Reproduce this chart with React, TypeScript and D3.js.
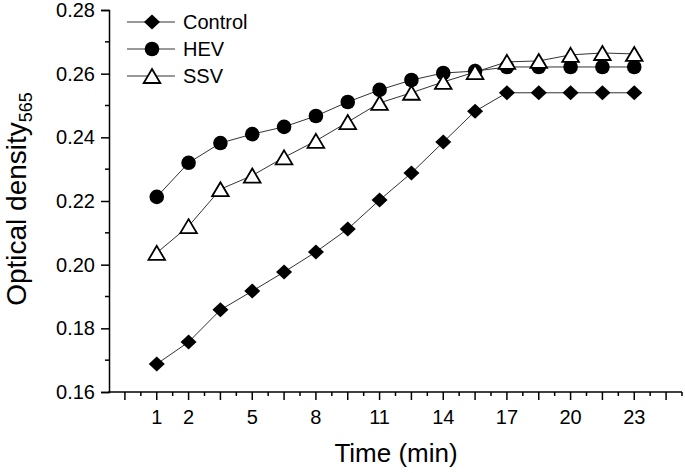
import { useEffect, useRef } from 'react';
import * as d3 from 'd3';

// sample positions along the axis (the axis is spaced by sample, not by minute)
const sampleIndex = [1, 2, 3, 4, 5, 6, 7, 8, 9, 10, 11, 12, 13, 14, 15, 16];
const timeLabels = ['1', '2', '5', '8', '11', '14', '17', '20', '23'];
const labelIndex = [1, 2, 4, 6, 8, 10, 12, 14, 16];

const control = [0.1688, 0.1757, 0.1858, 0.1917, 0.1977, 0.204, 0.2112, 0.2203, 0.2288, 0.2385, 0.2482, 0.254, 0.254, 0.254, 0.254, 0.254];
const hev = [0.2213, 0.232, 0.2382, 0.241, 0.2433, 0.2467, 0.2511, 0.2549, 0.258, 0.2602, 0.2608, 0.2621, 0.2621, 0.2621, 0.2621, 0.2621];
const ssv = [0.2037, 0.2121, 0.2237, 0.228, 0.2337, 0.2389, 0.2448, 0.2508, 0.254, 0.2574, 0.2605, 0.2637, 0.264, 0.2659, 0.2665, 0.2662];

const seriesNames = ['Control', 'HEV', 'SSV'];
const yTicks = [0.16, 0.18, 0.2, 0.22, 0.24, 0.26, 0.28];

const FONT = '"Liberation Sans", Arial, Helvetica, sans-serif';

const diamond = 'M0,-7.5L8,0L0,7.5L-8,0Z';
const triangle = 'M0,-7L8.3,7L-8.3,7Z';

function drawMarker(g: d3.Selection<SVGGElement, unknown, null, undefined>, kind: string, x: number, y: number) {
  if (kind === 'Control') {
    g.append('path').attr('d', diamond).attr('transform', `translate(${x},${y})`).attr('fill', '#000');
  } else if (kind === 'HEV') {
    g.append('circle').attr('cx', x).attr('cy', y).attr('r', 7.3).attr('fill', '#000');
  } else {
    g.append('path')
      .attr('d', triangle)
      .attr('transform', `translate(${x},${y})`)
      .attr('fill', '#fff')
      .attr('stroke', '#000')
      .attr('stroke-width', 1.8)
      .attr('stroke-linejoin', 'miter');
  }
}

export default function App() {
  const svgRef = useRef<SVGSVGElement>(null);

  useEffect(() => {
    if (!svgRef.current) return;
    const svg = d3.select(svgRef.current);
    svg.selectAll('*').remove();

    const x = d3.scaleLinear().domain([-0.5, 17.5]).range([109, 682]);
    const y = d3.scaleLinear().domain([0.16, 0.28]).range([392, 10]);

    const g = svg.append('g');

    // connecting lines
    const line = d3
      .line<number>()
      .x((_, i) => x(sampleIndex[i]))
      .y((d) => y(d));

    const dataSets = [control, hev, ssv];
    dataSets.forEach((vals) => {
      g.append('path')
        .datum(vals)
        .attr('d', line)
        .attr('fill', 'none')
        .attr('stroke', '#333')
        .attr('stroke-width', 1);
    });

    // markers: control first, then HEV, then SSV on top
    dataSets.forEach((vals, s) => {
      vals.forEach((v, i) => drawMarker(g, seriesNames[s], x(sampleIndex[i]), y(v)));
    });

    // y axis
    const yAxis = d3
      .axisLeft(y)
      .tickValues(yTicks)
      .tickSize(8)
      .tickPadding(6)
      .tickFormat((d) => d3.format('.2f')(d as number));
    const ya = svg.append('g').attr('transform', 'translate(109,0)').call(yAxis);
    ya.select('.domain').attr('stroke-width', 1.5);
    ya.selectAll('.tick line').attr('stroke-width', 1.5);
    ya.selectAll('text').attr('font-size', 20).attr('font-family', FONT).attr('fill', '#000');

    // y minor ticks
    const yMinor = d3.range(0.17, 0.28, 0.02);
    svg
      .append('g')
      .selectAll('line')
      .data(yMinor)
      .join('line')
      .attr('x1', 105)
      .attr('x2', 109)
      .attr('y1', (d) => y(d))
      .attr('y2', (d) => y(d))
      .attr('stroke', '#000')
      .attr('stroke-width', 1.5);

    // x axis
    const majorX = d3.range(0, 18);
    const minorX = d3.range(0.5, 17.5, 1);
    const xa = svg.append('g');
    xa.append('line')
      .attr('x1', 108.25)
      .attr('x2', x(17.5))
      .attr('y1', 392)
      .attr('y2', 392)
      .attr('stroke', '#000')
      .attr('stroke-width', 1.5);
    xa.selectAll('line.major')
      .data(majorX)
      .join('line')
      .attr('class', 'major')
      .attr('x1', (d) => x(d))
      .attr('x2', (d) => x(d))
      .attr('y1', 392)
      .attr('y2', 400)
      .attr('stroke', '#000')
      .attr('stroke-width', 1.5);
    xa.selectAll('line.minor')
      .data([...minorX, 17.5])
      .join('line')
      .attr('class', 'minor')
      .attr('x1', (d) => x(d))
      .attr('x2', (d) => x(d))
      .attr('y1', 392)
      .attr('y2', 396)
      .attr('stroke', '#000')
      .attr('stroke-width', 1.5);
    xa.selectAll('text')
      .data(timeLabels)
      .join('text')
      .attr('x', (_, i) => x(labelIndex[i]))
      .attr('y', 424)
      .attr('text-anchor', 'middle')
      .attr('font-size', 20)
      .attr('font-family', FONT)
      .attr('fill', '#000')
      .text((d) => d);

    // axis titles
    svg
      .append('text')
      .attr('x', 396)
      .attr('y', 462)
      .attr('text-anchor', 'middle')
      .attr('font-size', 26)
      .attr('font-family', FONT)
      .attr('fill', '#000')
      .text('Time (min)');

    const yt = svg
      .append('text')
      .attr('transform', 'translate(26,199) rotate(-90)')
      .attr('text-anchor', 'middle')
      .attr('font-size', 28)
      .attr('font-family', FONT)
      .attr('fill', '#000');
    yt.append('tspan').text('Optical density');
    yt.append('tspan').attr('font-size', 18).attr('dy', 6).text('565');

    // legend
    const legend = svg.append('g');
    const legendY = [22, 49, 76];
    seriesNames.forEach((name, i) => {
      const ly = legendY[i];
      legend
        .append('line')
        .attr('x1', 127)
        .attr('x2', 175)
        .attr('y1', ly)
        .attr('y2', ly)
        .attr('stroke', '#333')
        .attr('stroke-width', 1);
      drawMarker(legend, name, 152, ly);
      legend
        .append('text')
        .attr('x', 183)
        .attr('y', ly + 7)
        .attr('font-size', 20)
        .attr('font-family', FONT)
        .attr('fill', '#000')
        .text(name);
    });
  }, []);

  return (
    <svg
      ref={svgRef}
      width={685}
      height={473}
      style={{ position: 'absolute', left: 0, top: 0, background: '#fff' }}
    />
  );
}
